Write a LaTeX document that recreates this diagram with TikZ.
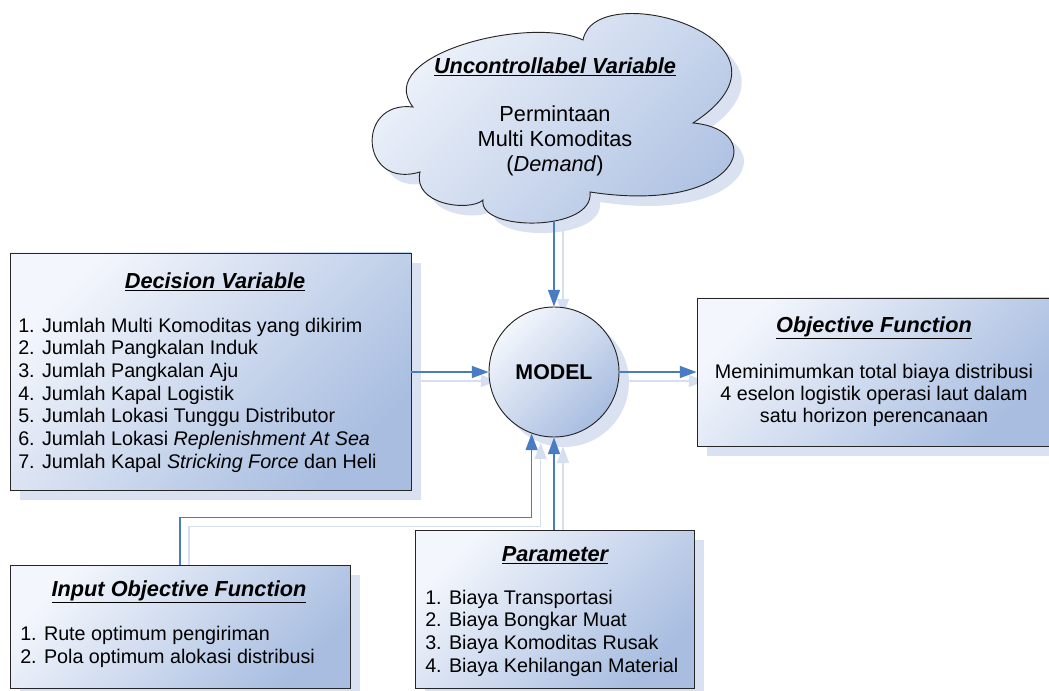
\documentclass[tikz,border=0pt]{standalone}
\usepackage{fontspec}
\setmainfont{Liberation Sans}
\usetikzlibrary{arrows.meta,calc,shadows,backgrounds}

\definecolor{fillA}{HTML}{F3F6FC}
\definecolor{fillB}{HTML}{A8BDE0}
\definecolor{shadowc}{HTML}{DAE2F1}
\definecolor{linec}{HTML}{4A7CC4}
\definecolor{lineshadow}{HTML}{D5DFF0}

\begin{document}
\begin{tikzpicture}[x=0.75pt,y=-0.75pt,
  shapefill/.style={draw=black!85, line width=0.7pt, top color=fillA, bottom color=fillB, shading angle=45,
    drop shadow={shadow xshift=7.5pt, shadow yshift=-7.5pt, fill=shadowc, opacity=1}},
  boxshape/.style={shapefill, rectangle, inner sep=0pt},
  titlef/.style={inner sep=0pt, font=\fontsize{16.3}{19}\selectfont\bfseries\itshape},
  bodyf/.style={inner sep=0pt, font=\fontsize{14.8}{17}\selectfont},
  cloudf/.style={inner sep=0pt, font=\fontsize{16.3}{18.75}\selectfont},
  conn/.style={draw=linec, line width=1pt, -{Triangle[length=12.5pt,width=9pt]}},
  sconn/.style={conn, draw=lineshadow, transform canvas={xshift=6.75pt,yshift=-6.75pt}}
]
\useasboundingbox (0,0) rectangle (1049,691);

% cloud
\path[shapefill]
  (413,107) .. controls (372,55) and (530,15) .. (583,40)
  .. controls (595,-25) and (820,40) .. (693,123)
  .. controls (770,130) and (740,215) .. (590,192)
  .. controls (595,232) and (478,232) .. (483,200)
  .. controls (470,212) and (412,205) .. (420,172)
  .. controls (360,190) and (355,100) .. (413,107) -- cycle;
\node[titlef] (uncT) at (555,67) {\underline{Uncontrollabel Variable}};
\node[cloudf, align=center] (uncB) at (555,141) {Permintaan\\Multi Komoditas\\(\textit{Demand})};
\coordinate (cb) at (554,221);

% boxes
\node[boxshape, minimum width=300.75pt, minimum height=177.75pt] (dec) at (210.5,371.5) {};
\node[titlef] (decT) at (215,282) {\underline{Decision Variable}};
\node[bodyf, anchor=west, align=left] (decB) at (18,395) {1. Jumlah Multi Komoditas yang dikirim\\
2. Jumlah Pangkalan Induk\\
3. Jumlah Pangkalan Aju\\
4. Jumlah Kapal Logistik\\
5. Jumlah Lokasi Tunggu Distributor\\
6. Jumlah Lokasi \textit{Replenishment At Sea}\\
7. Jumlah Kapal \textit{Stricking Force} dan Heli};

\node[shapefill, circle, inner sep=0pt, minimum size=97.5pt] (model) at (554,372) {};
\node[inner sep=0pt, font=\fontsize{16}{19}\selectfont\bfseries] (modelT) at (554,372) {MODEL};

\node[boxshape, minimum width=265.5pt, minimum height=111pt] (obj) at (874,372) {};
\node[titlef] (objT) at (874,328) {\underline{Objective Function}};
\node[bodyf, align=center, font=\fontsize{14.8}{16.5}\selectfont] (objB) at (874,395) {Meminimumkan total biaya distribusi\\4 eselon logistik operasi laut dalam\\satu horizon perencanaan};

\node[boxshape, minimum width=255pt, minimum height=92.25pt] (inp) at (180,626.5) {};
\node[titlef] (inpT) at (179,592) {\underline{Input Objective Function}};
\node[bodyf, anchor=west, align=left] (inpB) at (20,647) {1. Rute optimum pengiriman\\2. Pola optimum alokasi distribusi};

\node[boxshape, minimum width=209.25pt, minimum height=118.5pt] (par) at (554.5,609) {};
\node[titlef] (parT) at (555,555) {\underline{Parameter}};
\node[bodyf, anchor=west, align=left] (parB) at (425,633) {1. Biaya Transportasi\\2. Biaya Bongkar Muat\\3. Biaya Komoditas Rusak\\4. Biaya Kehilangan Material};

\coordinate (iturn) at ($(model.250 |- inp.north)+(0,-47)$);

% connector shadows
\begin{pgfonlayer}{background}
\draw[sconn] (cb) -- (model.north);
\draw[sconn] (dec.east |- model.west) -- (model.west);
\draw[sconn] (model.east) -- (obj.west |- model.east);
\draw[sconn] (inp.north) |- (iturn) -- (model.250);
\draw[sconn] (model.south |- par.north) -- (model.south);
\end{pgfonlayer}

% connectors
\draw[conn] (cb) -- (model.north);
\draw[conn] (dec.east |- model.west) -- (model.west);
\draw[conn] (model.east) -- (obj.west |- model.east);
\draw[conn] (inp.north) |- (iturn) -- (model.250);
\draw[conn] (model.south |- par.north) -- (model.south);
\end{tikzpicture}
\end{document}
